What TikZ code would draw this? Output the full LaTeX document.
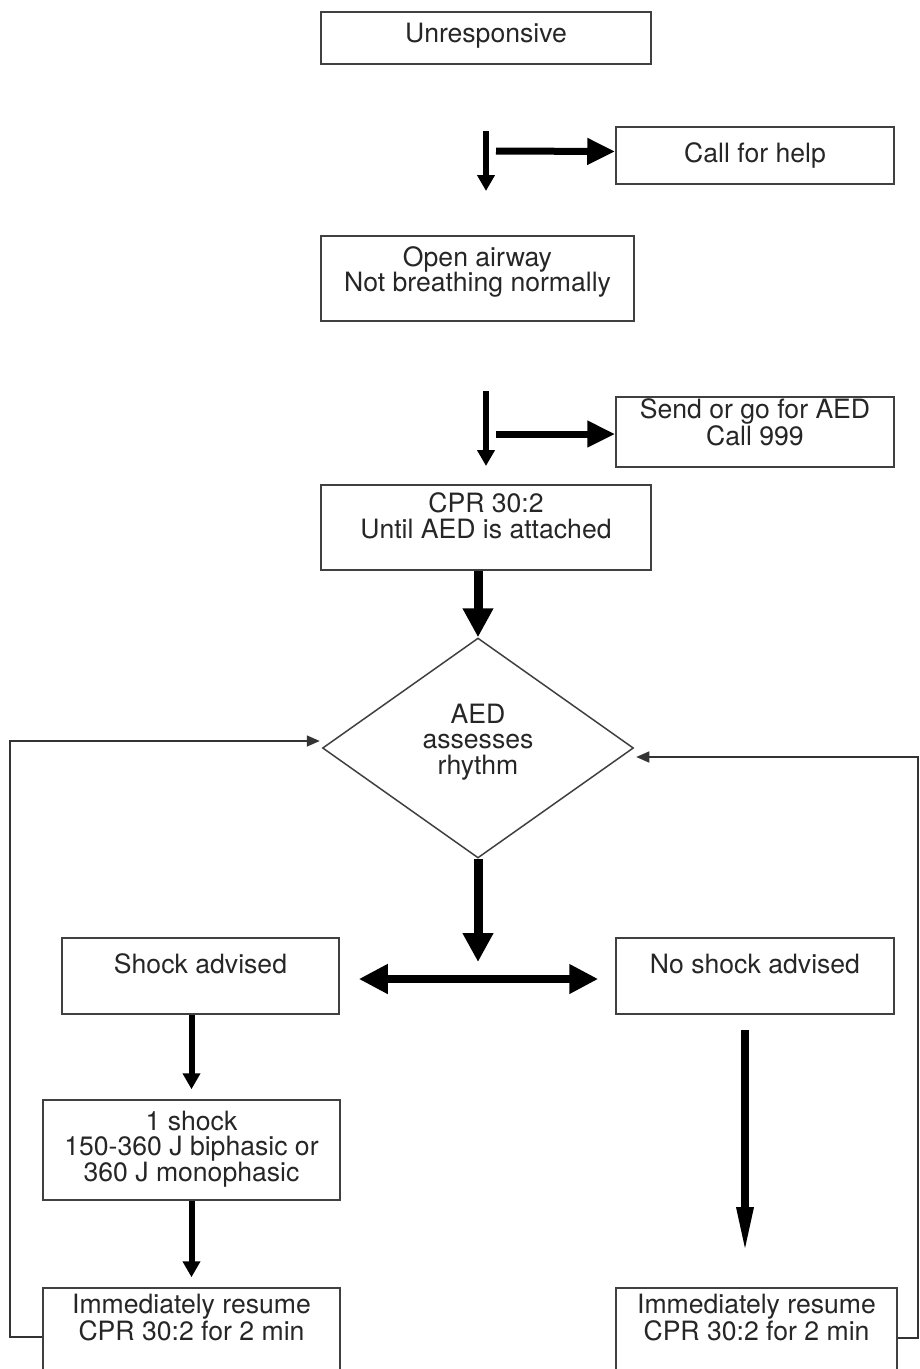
\documentclass[tikz,border=0pt]{standalone}
\usepackage{fontspec}
\setmainfont{TeX Gyre Heros}
\usetikzlibrary{arrows.meta,shapes.geometric}
% extra depth below the last line, lifts the text inside a box
\newcommand{\padd}[1]{\rule[-#1pt]{0pt}{#1pt}}
\tikzset{
  box/.style={draw=black!75, line width=1.5pt, inner sep=0pt, align=center,
    text=black!85, font=\fontsize{26.6pt}{25.5pt}\selectfont},
  dia/.style={box, diamond, aspect=1.41, minimum width=311pt, minimum height=220pt},
  bigarrow/.style={line width=9pt, -{Triangle[length=29pt,width=29pt]}},
  sidearrow/.style={line width=7pt, -{Triangle[length=28pt,width=25pt]}},
  downarrow/.style={line width=6pt, -{Triangle[length=16pt,width=17pt]}},
  longarrow/.style={line width=8.5pt, -{Triangle[length=50pt,width=15pt]}},
  twoway/.style={line width=8pt, {Triangle[length=29pt,width=28pt]}-{Triangle[length=29pt,width=28pt]}},
  retline/.style={draw=black!80, line width=1.5pt, -{Triangle[length=13pt,width=11pt]}}
}
\begin{document}
\begin{tikzpicture}[x=1pt,y=-1pt]
  \clip (0,0) rectangle (920,1369);
  % boxes
  \node[box, minimum width=330pt, minimum height=52pt] (unresp) at (486,38) {Unresponsive\padd{10}};
  \node[box, minimum width=278pt, minimum height=57pt] (help) at (755,155.5) {Call for help\padd{5}};
  \node[box, minimum width=313pt, minimum height=85pt] (airway) at (477.5,278.5) {Open airway\\Not breathing normally\padd{19}};
  \node[box, minimum width=278pt, minimum height=70pt] (send) at (755,432) {Send or go for AED\\Call 999\padd{20}};
  \node[box, minimum width=330pt, minimum height=85pt] (cpr) at (486,527.5) {CPR 30:2\\Until AED is attached\padd{24}};
  \node[dia] (rhythm) at (478,748) {AED\\assesses\\rhythm\padd{18}};
  \node[box, minimum width=277pt, minimum height=76pt] (shock) at (200.5,976) {Shock advised\padd{25}};
  \node[box, minimum width=278pt, minimum height=76pt] (noshock) at (755,976) {No shock advised\padd{25}};
  \node[box, minimum width=297pt, minimum height=100pt] (oneshock) at (191.5,1150) {1 shock\\150-360 J biphasic or\\360 J monophasic\padd{8}};
  \node[box, minimum width=297pt, minimum height=112pt] (resl) at (191.5,1344) {Immediately resume\\CPR 30:2 for 2 min\padd{53}};
  \node[box, minimum width=281pt, minimum height=112pt] (resr) at (756.5,1344) {Immediately resume\\CPR 30:2 for 2 min\padd{53}};

  % free ends
  \coordinate (a1top) at (486,131);
  \coordinate (a1end) at (486,191);
  \coordinate (h1start) at (496,151);
  \coordinate (a2top) at (486,391);
  \coordinate (a2end) at (486,466);
  \coordinate (h2start) at (496,434);
  \coordinate (split) at (478,962);
  \coordinate (n1top) at (745,1030);
  \coordinate (n1end) at (745,1257);
  \coordinate (lret) at (10,741);
  \coordinate (rret) at (918,757);

  % arrows
  \draw[downarrow] (a1top) -- (a1end);
  \draw[sidearrow] (h1start) -- ([yshift=4pt]help.west);
  \draw[downarrow] (a2top) -- (a2end);
  \draw[sidearrow] (h2start) -- ([yshift=-2pt]send.west);
  \draw[bigarrow] (rhythm.north |- cpr.south) -- (rhythm.north);
  \draw[bigarrow] (rhythm.south) -- (split);
  \draw[twoway] ([xshift=19pt,yshift=-3pt]shock.east) -- ([xshift=-17pt,yshift=-3pt]noshock.west);
  \draw[downarrow] (oneshock.north |- shock.south) -- ([yshift=10pt]oneshock.north);
  \draw[downarrow] (oneshock.south) -- ([yshift=10pt]resl.north);
  \draw[longarrow] (n1top) -- (n1end);

  % back to the rhythm check
  \draw[retline] ([yshift=7pt]resl.west) -| (lret) -- ([xshift=-2pt,yshift=7pt]rhythm.west);
  \draw[retline] ([yshift=6pt]resr.east) -| (rret) -- ([xshift=2pt,yshift=-9pt]rhythm.east);
\end{tikzpicture}
\end{document}
